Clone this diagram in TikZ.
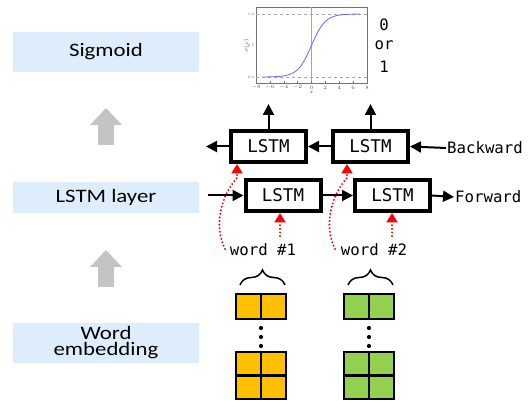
\documentclass[tikz,border=0pt]{standalone}
\usepackage{fontspec}
\usepackage{graphicx}
\usetikzlibrary{arrows.meta,decorations.pathreplacing,calc}
\newfontfamily\calib{Carlito}
\newfontfamily\mono{DejaVu Sans Mono}
\definecolor{lblue}{RGB}{221,237,251}
\definecolor{ygold}{RGB}{255,192,0}
\definecolor{lgreen}{RGB}{146,208,80}
\definecolor{barg}{RGB}{196,196,196}
\begin{document}
\begin{tikzpicture}[x=1pt,y=-1pt,
 lbox/.style={fill=lblue, minimum width=186pt, inner sep=0pt, font=\calib\fontsize{19}{16}\selectfont, align=center},
 lstmbox/.style={draw, line width=4pt, fill=white, minimum width=75pt, minimum height=31pt, inner sep=0pt, font=\mono\fontsize{17.5}{18}\selectfont},
 arr/.style={line width=2pt, -{Triangle[length=11pt,width=11pt]}},
 redarr/.style={red, line width=2.2pt, line cap=round, dash pattern=on 0pt off 3.6pt, -{Triangle[length=9.5pt,width=11pt]}},
 monolbl/.style={font=\mono\fontsize{15.7}{17}\selectfont, inner sep=1pt},
 cell/.style={draw, line width=2.5pt},
 graybar/.style={fill=barg},
 tiny/.style={font=\fontsize{3.5}{4}\selectfont, inner sep=0pt, text=black!70}
]
\useasboundingbox (0,0) rectangle (531,401);

% left column
\node[lbox, minimum height=40pt] (sig) at (106,52) {\scalebox{1.2}[1]{Sigmoid}};
\node[lbox, minimum height=31pt] (lay) at (106,197.5) {\scalebox{1.2}[1]{LSTM layer}};
\node[lbox, minimum height=40pt] (emb) at (106,343) {\scalebox{1.2}[1]{Word}\\\scalebox{1.2}[1]{embedding}};
\fill[graybar] (106,108) -- (122,125) -- (114,125) -- (114,145) -- (98,145) -- (98,125) -- (90,125) -- cycle;
\fill[graybar] (106,250) -- (122,267) -- (114,267) -- (114,287) -- (98,287) -- (98,267) -- (90,267) -- cycle;

% sigmoid plot
\draw[black!55, line width=0.6pt] (256,7) rectangle (367,83);
\draw[black!35, dashed, line width=0.5pt] (256,14) -- (367,14);
\draw[black!35, dashed, line width=0.5pt] (256,77) -- (367,77);
\draw[black!35, line width=0.5pt] (311.5,7) -- (311.5,83);
\draw[blue!60, line width=0.8pt] plot[domain=-7:7, samples=80] ({311.5+6.9375*\x},{77-63/(1+exp(-\x))});
\foreach \v in {-8,-6,...,8} {
  \draw[black!55, line width=0.4pt] ({311.5+6.9375*\v},83) -- ({311.5+6.9375*\v},81.5);
  \node[tiny] (tx\v) at ({311.5+6.9375*\v},87.5) {$\v$};
}
\node[tiny] (ty1) at (251,14) {1.0};
\node[tiny] (ty2) at (251,45.5) {0.5};
\node[tiny] (ty3) at (251,77) {0.0};
\node[tiny, rotate=90] (ylab) at (246.5,45.5) {$\sigma(x)$};
\node[tiny] (xlab) at (311.5,92.5) {$x$};
\node[monolbl] (o0) at (384,25) {0};
\node[monolbl] (oor) at (384,45) {or};
\node[monolbl] (o1) at (384,67) {1};

% LSTM boxes
\node[lstmbox] (b1) at (268.5,146.5) {LSTM};
\node[lstmbox] (b2) at (370.5,146.5) {LSTM};
\node[lstmbox] (f1) at (283,195.5) {LSTM};
\node[lstmbox] (f2) at (392.5,195.5) {LSTM};
\node[monolbl, anchor=west] (bw) at (446,148) {Backward};
\node[monolbl, anchor=west] (fw) at (454,197) {Forward};

\coordinate (u1) at (268.5,104);
\coordinate (u2) at (370.5,104);
\coordinate (lb) at (206,146.5);
\coordinate (lf) at (208,195.5);
\draw[arr] (b1.north) -- (u1);
\draw[arr] (b2.north) -- (u2);
\draw[arr] (b1.west) -- (lb);
\draw[arr] (b2.west) -- (b1.east);
\draw[arr] (bw.west) -- (b2.east);
\draw[arr] (lf) -- (f1.west);
\draw[arr] (f1.east) -- (f2.west);
\draw[arr] (f2.east) -- (fw.west);

% words
\node[monolbl] (w1) at (263,250) {word \#1};
\node[monolbl] (w2) at (374,250) {word \#2};

% red dotted arrows
\coordinate (s1) at (225,249);
\coordinate (c1) at (237,178);
\coordinate (s2) at (335,249);
\coordinate (c2) at (347,178);
\draw[redarr] (s1) .. controls (213,225) and (222,194) .. (c1) -- (c1 |- b1.south);
\draw[redarr] (s2) .. controls (323,225) and (332,194) .. (c2) -- (c2 |- b2.south);
\coordinate (r1) at (280,236);
\coordinate (r2) at (392,236);
\draw[redarr] (r1) -- (r1 |- f1.south);
\draw[redarr] (r2) -- (r2 |- f2.south);

% braces
\draw[decorate, decoration={brace, amplitude=15pt}, line width=1.5pt] (240,285) -- (285,285);
\draw[decorate, decoration={brace, amplitude=15pt}, line width=1.5pt] (348,285) -- (393,285);

% embeddings
\foreach \xo/\col in {236/ygold, 344/lgreen} {
  \draw[cell, fill=\col] (\xo,294) rectangle ++(25,25);
  \draw[cell, fill=\col] (\xo+25,294) rectangle ++(25,25);
  \fill ({\xo+25},328) circle (2.1pt);
  \fill ({\xo+25},337) circle (2.1pt);
  \fill ({\xo+25},346) circle (2.1pt);
  \draw[cell, fill=\col] (\xo,352) rectangle ++(25,23.5);
  \draw[cell, fill=\col] (\xo+25,352) rectangle ++(25,23.5);
  \draw[cell, fill=\col] (\xo,375.5) rectangle ++(25,23.5);
  \draw[cell, fill=\col] (\xo+25,375.5) rectangle ++(25,23.5);
}
\end{tikzpicture}
\end{document}
